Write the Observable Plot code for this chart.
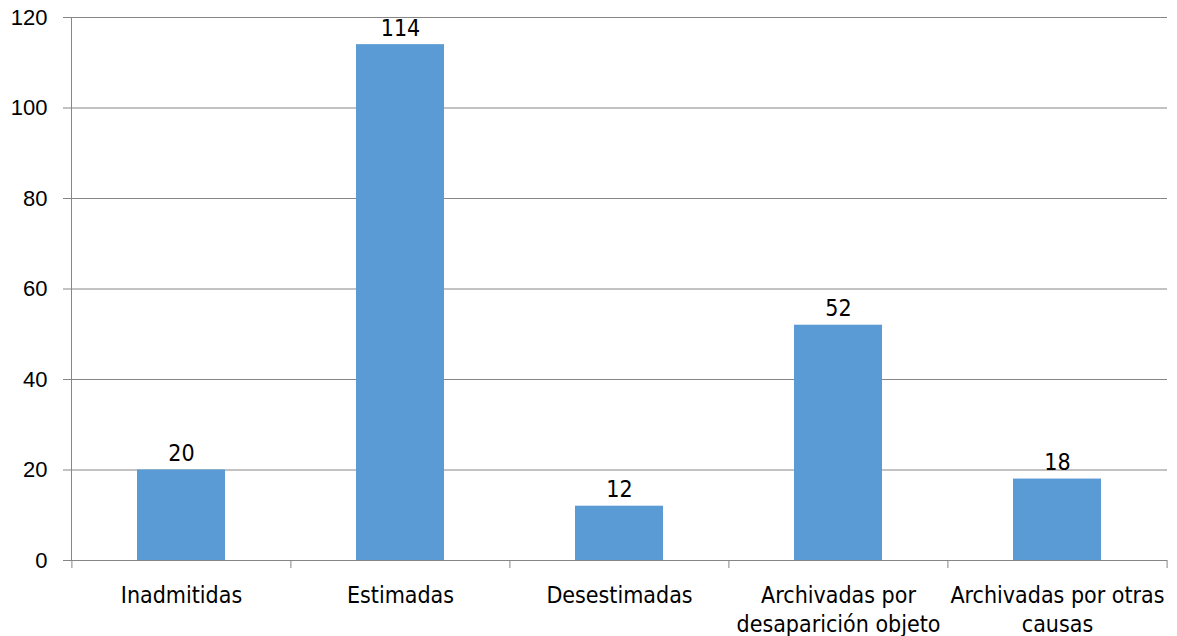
<!DOCTYPE html>
<html>
<head>
<meta charset="utf-8">
<script src="https://cdn.jsdelivr.net/npm/d3@7"></script>
<script src="https://cdn.jsdelivr.net/npm/@observablehq/plot@0.6"></script>
<style>
  html, body { margin: 0; padding: 0; background: #fff; }
  #chart svg { display: block; }
  .cond text { font-stretch: condensed; }
</style>
</head>
<body>
<div id="chart"></div>
<script>
// Resolution categories (line breaks as shown under the axis)
const categories = [
  "Inadmitidas",
  "Estimadas",
  "Desestimadas",
  "Archivadas por\ndesaparición objeto",
  "Archivadas por otras\ncausas"
];
// Number of cases in each category
const values = [20, 114, 12, 52, 18];
// Value axis ticks
const yTicks = [0, 20, 40, 60, 80, 100, 120];

const data = categories.map((c, i) => ({category: c, value: values[i]}));

const W = 1177, H = 636;
const mL = 71, mR = 10, mT = 17, mB = 76;
const halfStep = (W - mL - mR) / categories.length / 2;

const catFont = "'DejaVu Sans Condensed', 'DejaVu Sans', sans-serif";
const numFont = "'Liberation Sans', Arial, sans-serif";
const gray = "#868686";

const chart = Plot.plot({
  width: W,
  height: H,
  marginLeft: mL,
  marginRight: mR,
  marginTop: mT,
  marginBottom: mB,
  style: {color: "#000", background: "#fff"},
  x: {domain: categories, paddingInner: 0.6, paddingOuter: 0.3, label: null},
  y: {domain: [0, 120], label: null},
  marks: [
    Plot.gridY(yTicks, {stroke: gray, strokeOpacity: 1}),
    Plot.frame({anchor: "left", stroke: gray}),
    Plot.axisY(yTicks, {
      tickSize: 8, tickPadding: 16, stroke: gray,
      fontSize: 22, fontFamily: numFont, label: null
    }),
    Plot.barY(data, {x: "category", y: "value", fill: "#5B9BD5"}),
    // boundaries between categories
    Plot.axisX({tickSize: 8, tickFormat: null, stroke: gray, dx: -halfStep, label: null}),
    Plot.axisX([categories[categories.length - 1]], {tickSize: 8, tickFormat: null, stroke: gray, dx: halfStep, label: null}),
    Plot.ruleY([0], {stroke: gray}),
    Plot.axisX({
      tickSize: 0, tickPadding: 22, fontSize: 23, lineHeight: 1.26,
      fontFamily: catFont, className: "cond", label: null
    }),
    Plot.text(data, {
      x: "category", y: "value", text: d => String(d.value),
      lineAnchor: "bottom", dy: -9, fontSize: 23, fontFamily: catFont,
      className: "cond", fill: "#000"
    })
  ]
});

document.getElementById("chart").append(chart);
</script>
</body>
</html>
